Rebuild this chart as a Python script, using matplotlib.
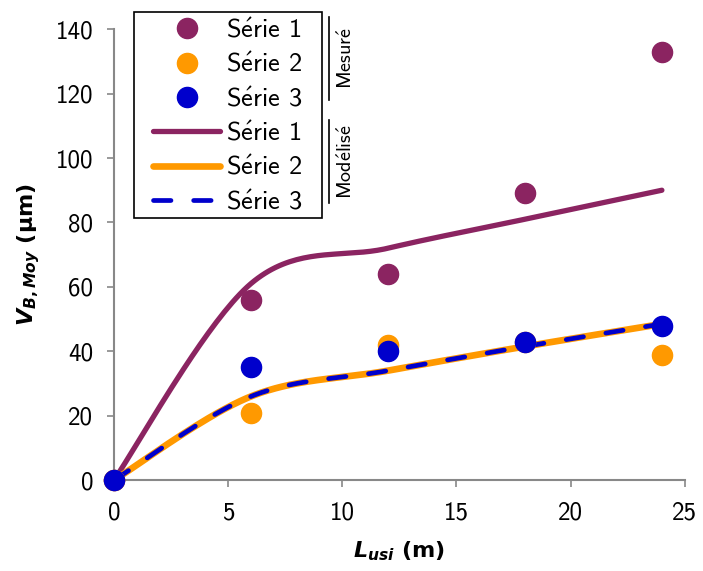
import numpy as np
import matplotlib
matplotlib.use("Agg")
import matplotlib.pyplot as plt
from matplotlib.lines import Line2D
from matplotlib.patches import Rectangle
from matplotlib.font_manager import FontProperties

plt.rcParams['font.family'] = ['cmss10', 'DejaVu Sans']
plt.rcParams['mathtext.fontset'] = 'custom'
plt.rcParams['mathtext.it'] = 'DejaVu Sans:italic:bold'
plt.rcParams['mathtext.rm'] = 'DejaVu Sans:bold'
plt.rcParams['axes.unicode_minus'] = False

# mesures
x_mes = [0, 6, 12, 18, 24]
serie1_mes = [0, 56, 64, 89, 133]
serie2_mes = [0, 21, 42, 43, 39]
serie3_mes = [0, 35, 40, 43, 48]

# modele
x_mod = [0, 6, 12, 18, 24]
serie1_mod = [0, 61, 72, 81, 90]
serie2_mod = [0, 26, 34, 41.5, 48.5]
serie3_mod = [0, 26, 34, 41.5, 48.5]

noms = [r'$\mathsf{S\acute{e}rie}$ 1', r'$\mathsf{S\acute{e}rie}$ 2', r'$\mathsf{S\acute{e}rie}$ 3']

violet = '#8B2461'
orange = '#FF9900'
bleu = '#0000CC'


def lisse(x, y, n=40):
    # lissage type Excel (bezier)
    x = np.array(x, float)
    y = np.array(y, float)
    px = np.concatenate([[x[0]], x, [x[-1]]])
    py = np.concatenate([[y[0]], y, [y[-1]]])
    xs, ys = [], []
    t = np.linspace(0, 1, n)
    for i in range(1, len(px) - 2):
        p0 = np.array([px[i], py[i]])
        p3 = np.array([px[i + 1], py[i + 1]])
        c1 = p0 + (np.array([px[i + 1], py[i + 1]]) - np.array([px[i - 1], py[i - 1]])) / 6
        c2 = p3 - (np.array([px[i + 2], py[i + 2]]) - p0) / 6
        b = ((1 - t) ** 3)[:, None] * p0 + (3 * (1 - t) ** 2 * t)[:, None] * c1 \
            + (3 * (1 - t) * t ** 2)[:, None] * c2 + (t ** 3)[:, None] * p3
        xs.extend(b[:, 0])
        ys.extend(b[:, 1])
    return xs, ys


fig = plt.figure(figsize=(7.03, 5.71), dpi=100)
ax = fig.add_axes([0.162, 0.159, 0.812, 0.790])

sx, sy = lisse(x_mod, serie1_mod)
l1, = ax.plot(sx, sy, color=violet, lw=3.8, solid_capstyle='round', zorder=2, clip_on=False)
sx, sy = lisse(x_mod, serie2_mod)
l2, = ax.plot(sx, sy, color=orange, lw=4.8, solid_capstyle='round', zorder=2, clip_on=False)
sx, sy = lisse(x_mod, serie3_mod)
l3, = ax.plot(sx, sy, color=bleu, lw=3.4, dashes=(3.7, 4.8), dash_capstyle='round', zorder=3, clip_on=False)

m1, = ax.plot(x_mes, serie1_mes, 'o', color=violet, ms=14.5, ls='none', zorder=4, clip_on=False)
m2, = ax.plot(x_mes, serie2_mes, 'o', color=orange, ms=14.5, ls='none', zorder=4, clip_on=False)
m3, = ax.plot(x_mes, serie3_mes, 'o', color=bleu, ms=14.5, ls='none', zorder=5, clip_on=False)

ax.set_xlim(0, 25)
ax.set_ylim(0, 140)
ax.set_xticks([0, 5, 10, 15, 20, 25])
ax.set_yticks(range(0, 141, 20))
ax.spines['top'].set_visible(False)
ax.spines['right'].set_visible(False)
for s in ['left', 'bottom']:
    ax.spines[s].set_color('#888888')
    ax.spines[s].set_linewidth(1.5)
ax.tick_params(direction='out', length=5, width=1.2, color='#888888', labelsize=18, pad=10)
for sp in ax.spines.values():
    sp.set_clip_on(False)

ax.set_xlabel(r'$L_{usi}$ (m)', fontsize=16, fontweight='bold', family='DejaVu Sans', labelpad=11)
ax.set_ylabel(r'$V_{B,Moy}$ (µm)', fontsize=16, fontweight='bold', family='DejaVu Sans', labelpad=10)

# cadre de la legende
fig.add_artist(Rectangle((134 / 703, 1 - 218 / 571), 188 / 703, 206 / 571,
                         transform=fig.transFigure, facecolor='white', edgecolor='black', lw=1.2, zorder=5))
leg = fig.legend([m1, m2, m3, l1, l2, l3], noms + noms,
                 loc='upper left', bbox_to_anchor=(153 / 703, 1 - 18 / 571),
                 bbox_transform=fig.transFigure, borderaxespad=0,
                 prop=FontProperties(family='cmss10', size=19, math_fontfamily='cm'),
                 frameon=False, handlelength=2.55, handletextpad=0.2,
                 labelspacing=0.38, borderpad=0)
leg.set_zorder(6)

fig.add_artist(Line2D([329 / 703, 329 / 703], [1 - 17 / 571, 1 - 100 / 571], color='black', lw=1.2))
fig.add_artist(Line2D([329 / 703, 329 / 703], [1 - 120 / 571, 1 - 203 / 571], color='black', lw=1.2))
fp = FontProperties(family='cmss10', size=14.5, math_fontfamily='cm')
fig.text(346 / 703, 1 - 58 / 571, r'$\mathsf{Mesur\acute{e}}$', rotation=90, ha='center', va='center', fontproperties=fp)
fig.text(346 / 703, 1 - 162 / 571, r'$\mathsf{Mod\acute{e}lis\acute{e}}$', rotation=90, ha='center', va='center', fontproperties=fp)

fig.savefig('out.png', dpi=100)
